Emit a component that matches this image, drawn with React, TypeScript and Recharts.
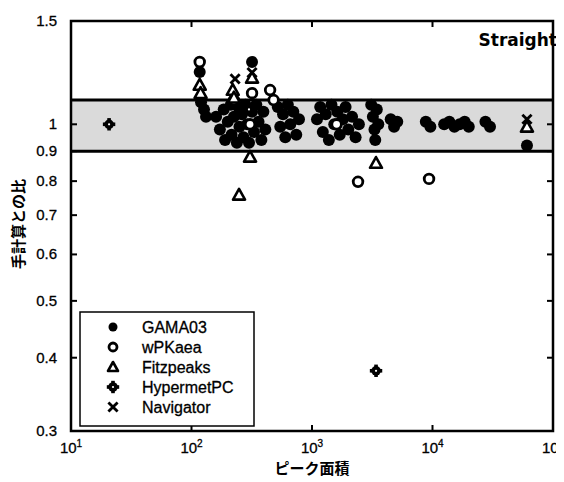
import React from 'react';
import { ScatterChart, Scatter, XAxis, YAxis, ReferenceArea, ReferenceLine } from 'recharts';

// ---- axes ----
const xTicks = [10, 100, 1000, 10000, 100000];
const xTickExp = ['1', '2', '3', '4', '5'];
const yTicks = [0.3, 0.4, 0.5, 0.6, 0.7, 0.8, 0.9, 1, 1.5];
const yTickLabels = ['0.3', '0.4', '0.5', '0.6', '0.7', '0.8', '0.9', '1', '1.5'];
const xDomain = [10, 100000];
const yDomain = [0.3, 1.5];
const bandLow = 0.9;
const bandHigh = 1.1;

const xLabel = 'ピーク面積';
const yLabel = '手計算との比';
const panelTitle = 'Straight';
const seriesNames = ['GAMA03', 'wPKaea', 'Fitzpeaks', 'HypermetPC', 'Navigator'];

// ---- series ----
const gamaX = [
  117, 120, 127, 132,
  160, 172, 185, 190, 200, 212, 215, 225, 238, 245, 250, 262, 270, 280, 290, 300, 318, 318, 330, 345, 360, 380, 395, 410,
  520, 545, 575, 600, 630, 660, 700, 740, 780,
  1100, 1170, 1230, 1300, 1380, 1450, 1530, 1620, 1700, 1800, 1900, 2000, 2150, 2300, 2450,
  3100, 3200, 3300, 3350, 3450, 3550,
  4500, 4800, 5100,
  8800, 9600,
  12500, 13800, 15200, 16800, 18500, 20000,
  27500, 30000,
  60800,
];
const gamaY = [
  1.228, 1.09, 1.06, 1.03,
  1.03, 0.98, 1.06, 0.94, 1.01, 1.08, 0.96, 1.03, 0.93, 1.07, 0.99, 1.04, 0.95, 1.08, 1.0, 0.93, 1.277, 1.05, 0.97, 1.08, 1.01, 0.94, 1.05, 0.98,
  1.07, 0.99, 1.04, 0.95, 1.08, 1.0, 1.05, 0.96, 1.02,
  1.02, 1.07, 0.97, 1.04, 0.94, 1.08, 1.0, 1.05, 0.96, 1.02, 1.07, 0.98, 1.03, 0.95, 1.0,
  1.08, 1.03, 0.98, 0.94, 1.06, 1.0,
  1.02, 0.99, 1.01,
  1.01, 0.99,
  1.0, 1.01, 0.99, 1.0, 1.01, 0.99,
  1.01, 0.99,
  0.92,
];

const wpkX = [117, 318, 449, 306, 225, 2410, 9360, 480, 1600];
const wpkY = [1.277, 1.13, 1.144, 1.0, 1.1, 0.798, 0.807, 1.1, 1.0];

const fitzX = [117, 119, 220, 225, 306, 248, 3396, 60800, 318];
const fitzY = [1.167, 1.13, 1.144, 1.11, 0.88, 0.758, 0.859, 0.99, 1.2];

const hypX = [20.7, 3400, 300];
const hypY = [1.0, 0.38, 1.06];

const navX = [230, 318, 60800];
const navY = [1.195, 1.225, 1.02];

const zip = (xs: number[], ys: number[]) => xs.map((x, i) => ({ x, y: ys[i] }));

// ---- layout ----
const W = 564;
const H = 474;
const M = { top: 13, right: 19, left: 0, bottom: 0 };
const YW = 63;
const XH = 51;
const PL = M.left + YW;
const PR = W - M.right;
const PT = M.top;
const PB = H - XH;
const FONT = '"Liberation Sans", Arial, sans-serif';
const CJK = '"Noto Sans CJK JP", sans-serif';

// ---- marker shapes ----
const FilledCircle = (p: any) => <circle cx={p.cx} cy={p.cy} r={p.r ?? 6} fill="#000" />;
const OpenCircle = (p: any) => <circle cx={p.cx} cy={p.cy} r={p.r ?? 4.8} fill="#fff" stroke="#000" strokeWidth={2.8} />;
const Triangle = (p: any) => {
  const { cx, cy } = p;
  const s = p.r ?? 6;
  return <polygon points={`${cx},${cy - s} ${cx + s},${cy + s * 0.8} ${cx - s},${cy + s * 0.8}`} fill="#fff" stroke="#000" strokeWidth={2.6} strokeLinejoin="round" />;
};
const Hyper = (p: any) => {
  const { cx, cy } = p;
  return (
    <g>
      <circle cx={cx} cy={cy} r={4.8} fill="#000" />
      <rect x={cx - 1.8} y={cy - 6.2} width={3.6} height={12.4} fill="#000" />
      <rect x={cx - 6.2} y={cy - 1.8} width={12.4} height={3.6} fill="#000" />
      <circle cx={cx} cy={cy} r={1.1} fill="#fff" />
    </g>
  );
};
const Cross = (p: any) => {
  const { cx, cy } = p;
  const s = 4.6;
  return (
    <g stroke="#000" strokeWidth={2.8}>
      <line x1={cx - s} y1={cy - s} x2={cx + s} y2={cy + s} />
      <line x1={cx - s} y1={cy + s} x2={cx + s} y2={cy - s} />
    </g>
  );
};
const legendShapes = [FilledCircle, OpenCircle, Triangle, Hyper, Cross];
const legendSizes = [4.5, 4, 5, undefined, undefined];

// ---- ticks ----
const YTick = (props: any) => {
  const { x, y, payload } = props;
  const v = payload.value;
  const i = yTicks.indexOf(v);
  const mark = v !== yTicks[0] && v !== yTicks[yTicks.length - 1];
  return (
    <g>
      <text x={x} y={y} dy={5} textAnchor="end" fontSize={15} fontFamily={FONT} fill="#000" stroke="#000" strokeWidth={0.3}>
        {yTickLabels[i] ?? String(v)}
      </text>
      {mark && <line x1={PL} x2={PL + 6} y1={y} y2={y} stroke="#000" strokeWidth={2} />}
      {mark && <line x1={PR - 6} x2={PR} y1={y} y2={y} stroke="#000" strokeWidth={2} />}
    </g>
  );
};

const XTick = (props: any) => {
  const { x, payload } = props;
  const v = payload.value;
  const i = xTicks.indexOf(v);
  const mark = v !== xTicks[0] && v !== xTicks[xTicks.length - 1];
  return (
    <g>
      <text x={x} y={PB + 22} textAnchor="middle" fontSize={15} fontFamily={FONT} fill="#000" stroke="#000" strokeWidth={0.3}>
        10<tspan dy={-6} fontSize={10}>{xTickExp[i]}</tspan>
      </text>
      {mark && <line x1={x} x2={x} y1={PB} y2={PB - 6} stroke="#000" strokeWidth={2} />}
      {mark && <line x1={x} x2={x} y1={PT} y2={PT + 6} stroke="#000" strokeWidth={2} />}
    </g>
  );
};

export default function App() {
  const legendTop = 304;
  const rowY = [319, 339, 359, 379, 399];
  return (
    <div style={{ position: 'relative', width: W, height: H }}>
      <ScatterChart width={W} height={H} margin={M}>
        <XAxis
          type="number"
          dataKey="x"
          scale="log"
          domain={xDomain}
          ticks={xTicks}
          interval={0}
          allowDataOverflow
          axisLine={false}
          tickLine={false}
          tickSize={0}
          tickMargin={0}
          height={XH}
          tick={<XTick />}
        />
        <YAxis
          type="number"
          dataKey="y"
          scale="log"
          domain={yDomain}
          ticks={yTicks}
          interval={0}
          allowDataOverflow
          axisLine={false}
          tickLine={false}
          tickSize={0}
          tickMargin={14}
          width={YW}
          tick={<YTick />}
        />
        <ReferenceArea x1={xDomain[0]} x2={xDomain[1]} y1={bandLow} y2={bandHigh} fill="#dadada" fillOpacity={1} stroke="none" />
        <ReferenceLine y={bandHigh} stroke="#000" strokeWidth={3} />
        <ReferenceLine y={bandLow} stroke="#000" strokeWidth={3} />
        <Scatter name={seriesNames[0]} data={zip(gamaX, gamaY)} shape={FilledCircle} isAnimationActive={false} />
        <Scatter name={seriesNames[3]} data={zip(hypX, hypY)} shape={Hyper} isAnimationActive={false} />
        <Scatter name={seriesNames[1]} data={zip(wpkX, wpkY)} shape={OpenCircle} isAnimationActive={false} />
        <Scatter name={seriesNames[2]} data={zip(fitzX, fitzY)} shape={Triangle} isAnimationActive={false} />
        <Scatter name={seriesNames[4]} data={zip(navX, navY)} shape={Cross} isAnimationActive={false} />
        <ReferenceArea x1={xDomain[0]} x2={xDomain[1]} y1={yDomain[0]} y2={yDomain[1]} fill="none" stroke="#000" strokeWidth={2.5} />
      </ScatterChart>
      <svg width={W} height={H} style={{ position: 'absolute', left: 0, top: 0, pointerEvents: 'none' }}>
        <text x={549} y={38} textAnchor="end" fontSize={17} fontWeight="bold" fontFamily='"DejaVu Sans", sans-serif' fill="#000">
          {panelTitle}
        </text>
        <text x={(PL + PR) / 2} y={466} textAnchor="middle" fontSize={15} fontWeight="bold" fontFamily={CJK} fill="#000">
          {xLabel}
        </text>
        <text x={9} y={216} transform="rotate(-90 9 216)" textAnchor="middle" dominantBaseline="central" fontSize={15} fontWeight="bold" fontFamily={CJK} fill="#000">
          {yLabel}
        </text>
        <rect x={72} y={legendTop} width={174} height={114} fill="#fff" stroke="#000" strokeWidth={1.5} />
        {seriesNames.map((n, i) => {
          const Shape = legendShapes[i];
          return (
            <g key={n}>
              <Shape cx={105} cy={rowY[i]} r={legendSizes[i]} />
              <text x={134} y={rowY[i] + 6} fontSize={16} fontFamily={FONT} fill="#000" stroke="#000" strokeWidth={0.3}>{n}</text>
            </g>
          );
        })}
      </svg>
    </div>
  );
}
